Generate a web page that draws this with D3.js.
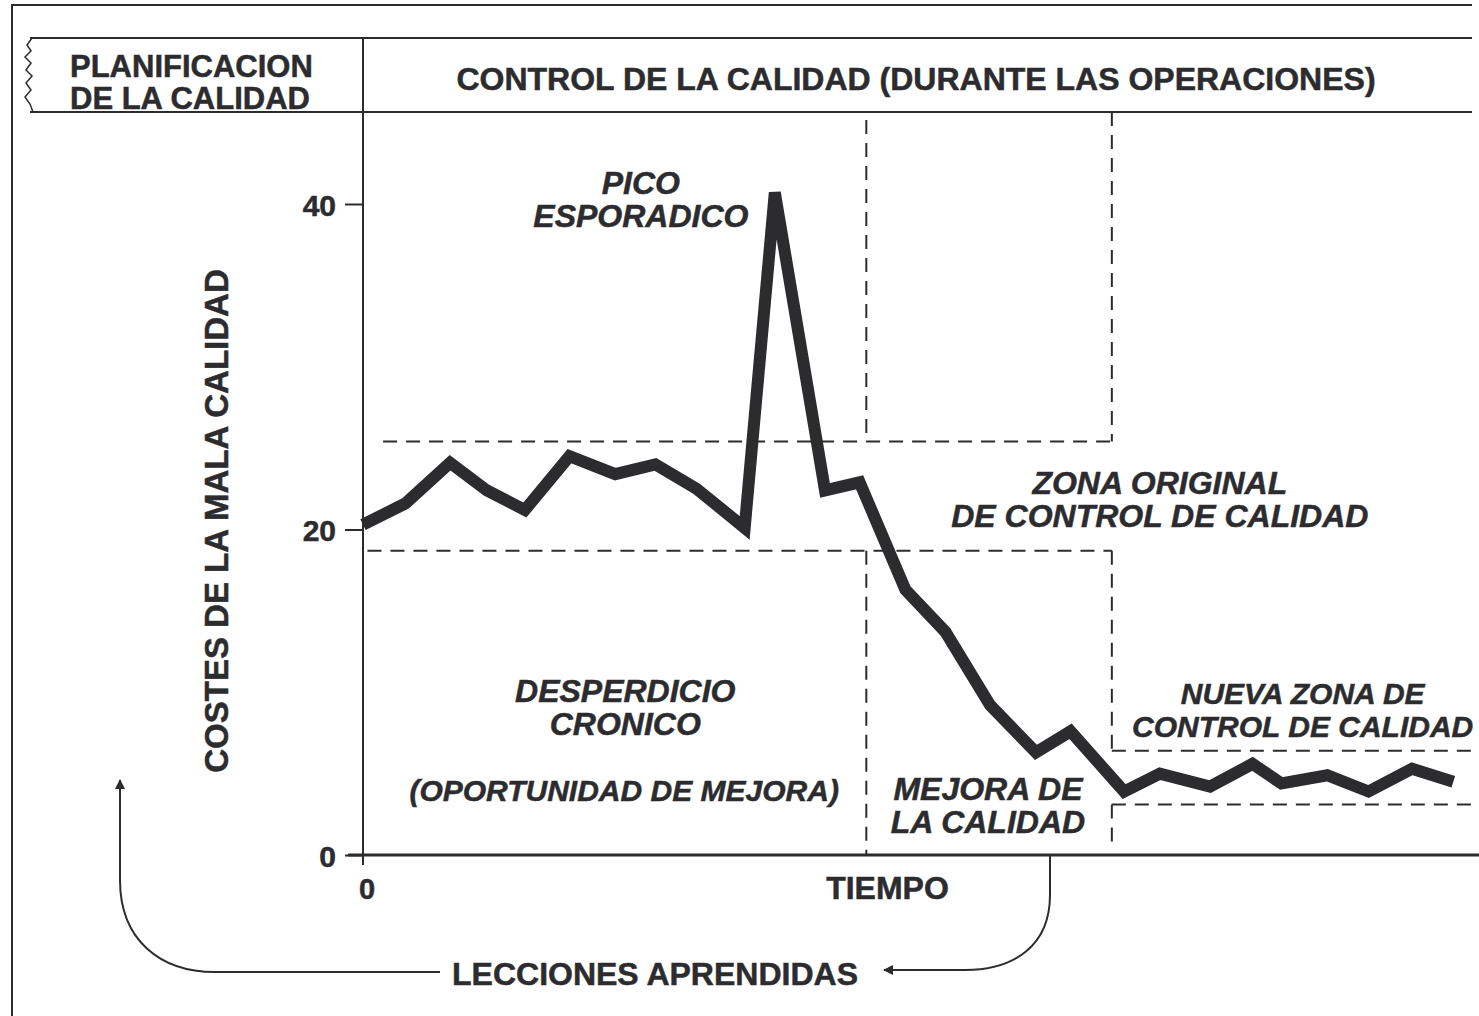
<!DOCTYPE html>
<html>
<head>
<meta charset="utf-8">
<script src="https://cdn.jsdelivr.net/npm/d3@7"></script>
<style>
  body { margin: 0; background: #fff; }
  text { font-family: "Liberation Sans", Arial, sans-serif; font-weight: bold; fill: #2c2c2f;
         stroke: #2c2c2f; stroke-width: 0.5px; }
</style>
</head>
<body>
<div id="chart"></div>
<script>
const w = 1479;
const h = 1016;
const ink = '#2c2c2f';

// cost of poor quality over time (arbitrary time units 0-100)
const times = [0, 3.8, 7.8, 11.1, 14.5, 18.5, 22.6, 26.2, 29.9, 34.2, 36.9, 41.4, 44.5, 48.6,
  52.2, 56.2, 60.3, 63.4, 68.2, 71.4, 75.9, 79.7, 82.3, 86.4, 90.1, 94.0, 97.7];
const costs = [20.3, 21.6, 24.1, 22.4, 21.2, 24.5, 23.4, 24.0, 22.5, 20.1, 40.7, 22.4, 22.9, 16.3,
  13.7, 9.2, 6.3, 7.6, 3.9, 5.0, 4.2, 5.6, 4.4, 4.9, 3.9, 5.3, 4.5];
const yTicks = [0, 20, 40];
const phaseBounds = [45.1, 67.1];
const originalZone = [18.7, 25.4];
const newZone = [3.1, 6.4];

const xScale = d3.scaleLinear().domain([0, 100]).range([363, 1479]);
const yScale = d3.scaleLinear().domain([0, 40]).range([855, 204]);

const svg = d3.select('#chart')
  .append('svg')
  .attr('width', w)
  .attr('height', h);

// outer frame
svg.append('path')
  .attr('d', 'M12,1016 L12,5 L1472,5')
  .attr('fill', 'none')
  .attr('stroke', ink)
  .attr('stroke-width', 2);

// header band
svg.append('line').attr('x1', 30).attr('x2', 1472).attr('y1', 38).attr('y2', 38)
  .attr('stroke', ink).attr('stroke-width', 2);
svg.append('line').attr('x1', 30).attr('x2', 1472).attr('y1', 112).attr('y2', 112)
  .attr('stroke', ink).attr('stroke-width', 2);

// torn left edge of the planning cell
const torn = [[32, 38], [27, 45], [31, 51], [25, 57], [31, 63], [26, 70], [32, 76], [26, 83],
  [31, 90], [25, 97], [30, 104], [33, 112]];
svg.append('path')
  .attr('d', d3.line()(torn))
  .attr('fill', 'none')
  .attr('stroke', ink)
  .attr('stroke-width', 1.5);

function multiline(x, y, lines, opts) {
  const t = svg.append('text')
    .attr('x', x)
    .attr('y', y)
    .attr('text-anchor', opts.anchor || 'middle')
    .style('font-size', opts.size + 'px')
    .style('font-style', opts.italic ? 'italic' : 'normal');
  lines.forEach((s, i) => {
    t.append('tspan')
      .attr('x', x)
      .attr('dy', i === 0 ? 0 : opts.lead)
      .text(s);
  });
  return t;
}

multiline(70, 77, ['PLANIFICACION', 'DE LA CALIDAD'], { anchor: 'start', size: 31, lead: 32 });
multiline(916, 90, ['CONTROL DE LA CALIDAD (DURANTE LAS OPERACIONES)'], { size: 32 });

// y-axis
svg.append('line')
  .attr('x1', xScale(0)).attr('x2', xScale(0))
  .attr('y1', 38).attr('y2', yScale(0))
  .attr('stroke', ink).attr('stroke-width', 2);

const yAxis = svg.append('g')
  .attr('transform', 'translate(' + xScale(0) + ',0)')
  .call(d3.axisLeft(yScale).tickValues(yTicks).tickSize(18).tickPadding(9).tickFormat(d3.format('d')));
yAxis.select('.domain').remove();
yAxis.selectAll('line').attr('stroke', ink).attr('stroke-width', 2);
yAxis.selectAll('text').style('font-size', '30px').attr('dy', '0.38em')
  .style('font-family', '"Liberation Sans", Arial, sans-serif').attr('fill', ink);

// x-axis
svg.append('line')
  .attr('x1', xScale(0) - 15).attr('x2', w)
  .attr('y1', yScale(0)).attr('y2', yScale(0))
  .attr('stroke', ink).attr('stroke-width', 3);
svg.append('line')
  .attr('x1', xScale(0)).attr('x2', xScale(0))
  .attr('y1', yScale(0)).attr('y2', yScale(0) + 10)
  .attr('stroke', ink).attr('stroke-width', 2);
svg.append('text').attr('x', xScale(0) + 4).attr('y', 899).attr('text-anchor', 'middle')
  .style('font-size', '29px').text('0');
svg.append('text').attr('x', xScale(47)).attr('y', 899).attr('text-anchor', 'middle')
  .style('font-size', '32px').text('TIEMPO');

// axis title
svg.append('text')
  .attr('text-anchor', 'middle')
  .attr('transform', 'translate(228,' + 521 + ')rotate(-90)')
  .style('font-size', '33px')
  .text('COSTES DE LA MALA CALIDAD');

// dashed zone limits
function dashed(x1, y1, x2, y2) {
  svg.append('line')
    .attr('x1', x1).attr('y1', y1).attr('x2', x2).attr('y2', y2)
    .attr('stroke', ink)
    .attr('stroke-width', 2)
    .attr('stroke-dasharray', '14 9');
}
dashed(xScale(1.8), yScale(originalZone[1]), xScale(phaseBounds[1]), yScale(originalZone[1]));
dashed(xScale(0.4), yScale(originalZone[0]), xScale(phaseBounds[1]), yScale(originalZone[0]));
dashed(xScale(phaseBounds[1]), yScale(newZone[1]), w, yScale(newZone[1]));
dashed(xScale(phaseBounds[1]), yScale(newZone[0]), w, yScale(newZone[0]));

dashed(xScale(phaseBounds[0]), 120, xScale(phaseBounds[0]), yScale(originalZone[1]));
dashed(xScale(phaseBounds[0]), yScale(originalZone[0]), xScale(phaseBounds[0]), yScale(0));
dashed(xScale(phaseBounds[1]), 112, xScale(phaseBounds[1]), yScale(originalZone[1]));
dashed(xScale(phaseBounds[1]), yScale(originalZone[0]), xScale(phaseBounds[1]), yScale(newZone[1]));
dashed(xScale(phaseBounds[1]), yScale(newZone[0]), xScale(phaseBounds[1]), yScale(0.8));

// cost line
svg.append('path')
  .datum(d3.zip(times, costs))
  .attr('fill', 'none')
  .attr('stroke', ink)
  .attr('stroke-width', 12)
  .attr('stroke-linejoin', 'miter')
  .attr('d', d3.line()
    .x((d) => xScale(d[0]))
    .y((d) => yScale(d[1])));

// annotations
const ital = { size: 32, lead: 33, italic: true };
multiline(xScale(24.9), yScale(40.6), ['PICO', 'ESPORADICO'], ital);
multiline(xScale(71.4), yScale(22.2), ['ZONA ORIGINAL', 'DE CONTROL DE CALIDAD'], ital);
multiline(xScale(23.5), yScale(9.4), ['DESPERDICIO', 'CRONICO'], ital);
multiline(xScale(23.4), yScale(3.3), ['(OPORTUNIDAD DE MEJORA)'], { size: 30, lead: 0, italic: true });
multiline(xScale(56), yScale(3.4), ['MEJORA DE', 'LA CALIDAD'], ital);
multiline(xScale(84.2), yScale(9.3), ['NUEVA ZONA DE', 'CONTROL DE CALIDAD'], { size: 30, lead: 33, italic: true });

// lessons learned loop
svg.append('defs').append('marker')
  .attr('id', 'head')
  .attr('viewBox', '0 0 10 10')
  .attr('refX', 9).attr('refY', 5)
  .attr('markerWidth', 14).attr('markerHeight', 10)
  .attr('markerUnits', 'userSpaceOnUse')
  .attr('orient', 'auto')
  .append('path')
  .attr('d', 'M0,0 L10,5 L0,10 Z')
  .attr('fill', ink);

svg.append('path')
  .attr('d', 'M1050,855 L1050,895 C1050,945 1015,970 965,970 L884,970')
  .attr('fill', 'none')
  .attr('stroke', ink)
  .attr('stroke-width', 2)
  .attr('marker-end', 'url(#head)');

svg.append('path')
  .attr('d', 'M440,972 L215,972 C160,972 120,940 120,880 L120,780')
  .attr('fill', 'none')
  .attr('stroke', ink)
  .attr('stroke-width', 2)
  .attr('marker-end', 'url(#head)');

svg.append('text').attr('x', 655).attr('y', 985).attr('text-anchor', 'middle')
  .style('font-size', '32px').text('LECCIONES APRENDIDAS');
</script>
</body>
</html>
